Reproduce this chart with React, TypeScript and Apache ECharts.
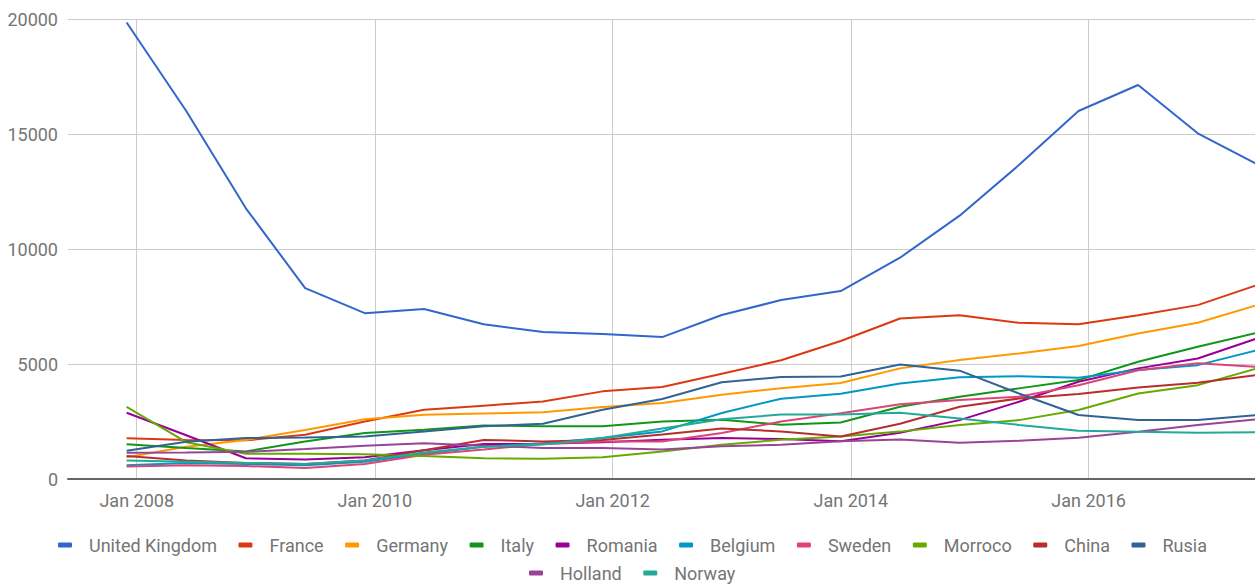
import React, { useEffect, useRef } from "react";
import * as echarts from "echarts";

const periods = [
  "2007-12-01", "2008-06-01", "2008-12-01", "2009-06-01", "2009-12-01",
  "2010-06-01", "2010-12-01", "2011-06-01", "2011-12-01", "2012-06-01",
  "2012-12-01", "2013-06-01", "2013-12-01", "2014-06-01", "2014-12-01",
  "2015-06-01", "2015-12-01", "2016-06-01", "2016-12-01", "2017-06-01",
];

const unitedKingdom = [19850, 16000, 11770, 8300, 7210, 7390, 6730, 6390, 6300, 6170, 7130, 7780, 8170, 9620, 11450, 13650, 16000, 17130, 15030, 13690];
const france = [1770, 1700, 1680, 1920, 2500, 3010, 3190, 3370, 3810, 4000, 4580, 5160, 6000, 6980, 7120, 6790, 6730, 7120, 7560, 8430];
const germany = [950, 1400, 1700, 2130, 2600, 2790, 2850, 2900, 3130, 3300, 3660, 3950, 4170, 4810, 5170, 5460, 5780, 6330, 6790, 7560];
const italy = [1510, 1350, 1200, 1630, 2000, 2140, 2330, 2290, 2290, 2500, 2580, 2360, 2460, 3140, 3580, 3940, 4300, 5100, 5750, 6360];
const romania = [2880, 1900, 900, 850, 950, 1250, 1520, 1530, 1600, 1710, 1780, 1740, 1640, 2010, 2560, 3360, 4230, 4810, 5240, 6110];
const belgium = [600, 700, 650, 600, 750, 1100, 1400, 1550, 1780, 2070, 2870, 3490, 3710, 4150, 4420, 4470, 4400, 4740, 4950, 5600];
const sweden = [540, 600, 560, 480, 650, 1050, 1280, 1530, 1630, 1630, 2000, 2500, 2860, 3250, 3430, 3580, 4080, 4730, 5030, 4880];
const morroco = [3140, 1600, 1100, 1100, 1080, 1000, 900, 880, 950, 1200, 1490, 1710, 1850, 2060, 2350, 2560, 3000, 3720, 4080, 4810];
const china = [1000, 800, 700, 650, 800, 1250, 1700, 1630, 1700, 1930, 2200, 2070, 1850, 2400, 3140, 3500, 3700, 3980, 4180, 4520];
const rusia = [1230, 1620, 1780, 1800, 1850, 2070, 2290, 2400, 3010, 3480, 4210, 4430, 4460, 4980, 4710, 3720, 2780, 2560, 2560, 2780];
const holland = [1140, 1150, 1180, 1300, 1450, 1550, 1450, 1350, 1350, 1280, 1420, 1490, 1640, 1720, 1580, 1660, 1790, 2050, 2350, 2600];
const norway = [800, 750, 700, 650, 800, 1150, 1400, 1500, 1780, 2200, 2600, 2800, 2800, 2880, 2630, 2350, 2100, 2050, 2010, 2030];

const seriesNames = [
  "United Kingdom", "France", "Germany", "Italy", "Romania", "Belgium",
  "Sweden", "Morroco", "China", "Rusia", "Holland", "Norway",
];
const seriesValues = [
  unitedKingdom, france, germany, italy, romania, belgium,
  sweden, morroco, china, rusia, holland, norway,
];
const colors = [
  "#3366cc", "#dc3912", "#ff9900", "#109618", "#990099", "#0099c6",
  "#dd4477", "#66aa00", "#b82e2e", "#316395", "#994499", "#22aa99",
];

const xTickDates = ["2008-01-01", "2010-01-01", "2012-01-01", "2014-01-01", "2016-01-01"];
const xTickLabels = ["Jan 2008", "Jan 2010", "Jan 2012", "Jan 2014", "Jan 2016"];
const xMin = "2007-06-04";
const xMax = "2017-09-01";

const toUTC = (s: string) => {
  const [y, m, d] = s.split("-").map(Number);
  return Date.UTC(y, m - 1, d);
};

export default function App() {
  const ref = useRef<HTMLDivElement>(null);
  useEffect(() => {
    if (!ref.current) return;
    const chart = echarts.init(ref.current, null, { renderer: "svg" });
    const tickTs = xTickDates.map(toUTC);
    const font = "Roboto";
    const textColor = "#757575";
    const legendCommon = {
      icon: "roundRect",
      itemWidth: 14,
      itemHeight: 5,
      itemGap: 21.5,
      padding: 0,
      textStyle: {
        fontFamily: font,
        fontSize: 18,
        color: textColor,
        padding: [0, 0, 0, 12],
      },
    };
    chart.setOption({
      animation: false,
      color: colors,
      grid: {
        left: 68,
        right: -32,
        top: 19,
        bottom: 106,
        containLabel: false,
        outerBoundsMode: "none",
      },
      legend: [
        { ...legendCommon, left: 58, top: 536, data: seriesNames.slice(0, 10) },
        { ...legendCommon, left: 529, top: 564, data: seriesNames.slice(10) },
      ],
      xAxis: {
        type: "value",
        min: toUTC(xMin),
        max: toUTC(xMax),
        axisLine: { show: true, lineStyle: { color: "#666", width: 2 } },
        axisTick: { show: false, customValues: tickTs },
        splitLine: { show: true, lineStyle: { color: "#cccccc", width: 1 } },
        axisLabel: {
          customValues: tickTs,
          hideOverlap: false,
          margin: 12,
          fontFamily: font,
          fontSize: 18,
          color: textColor,
          formatter: (v: number) => {
            const i = tickTs.indexOf(v);
            return i >= 0 ? xTickLabels[i] : "";
          },
        },
      },
      yAxis: {
        type: "value",
        min: 0,
        max: 20000,
        interval: 5000,
        axisLine: { show: false },
        axisTick: { show: false },
        splitLine: { show: true, lineStyle: { color: "#cccccc", width: 1 } },
        axisLabel: {
          margin: 10,
          fontFamily: font,
          fontSize: 18,
          color: textColor,
          formatter: (v: number) => String(v),
        },
      },
      series: seriesNames.map((name, i) => ({
        name,
        type: "line",
        showSymbol: false,
        symbol: "none",
        lineStyle: { width: 2 },
        emphasis: { disabled: true },
        data: periods.map((p, j) => [toUTC(p), seriesValues[i][j]]),
      })),
    });
    return () => chart.dispose();
  }, []);
  return (
    <div
      ref={ref}
      style={{ position: "fixed", left: 0, top: 0, width: 1255, height: 585, background: "#fff" }}
    />
  );
}
